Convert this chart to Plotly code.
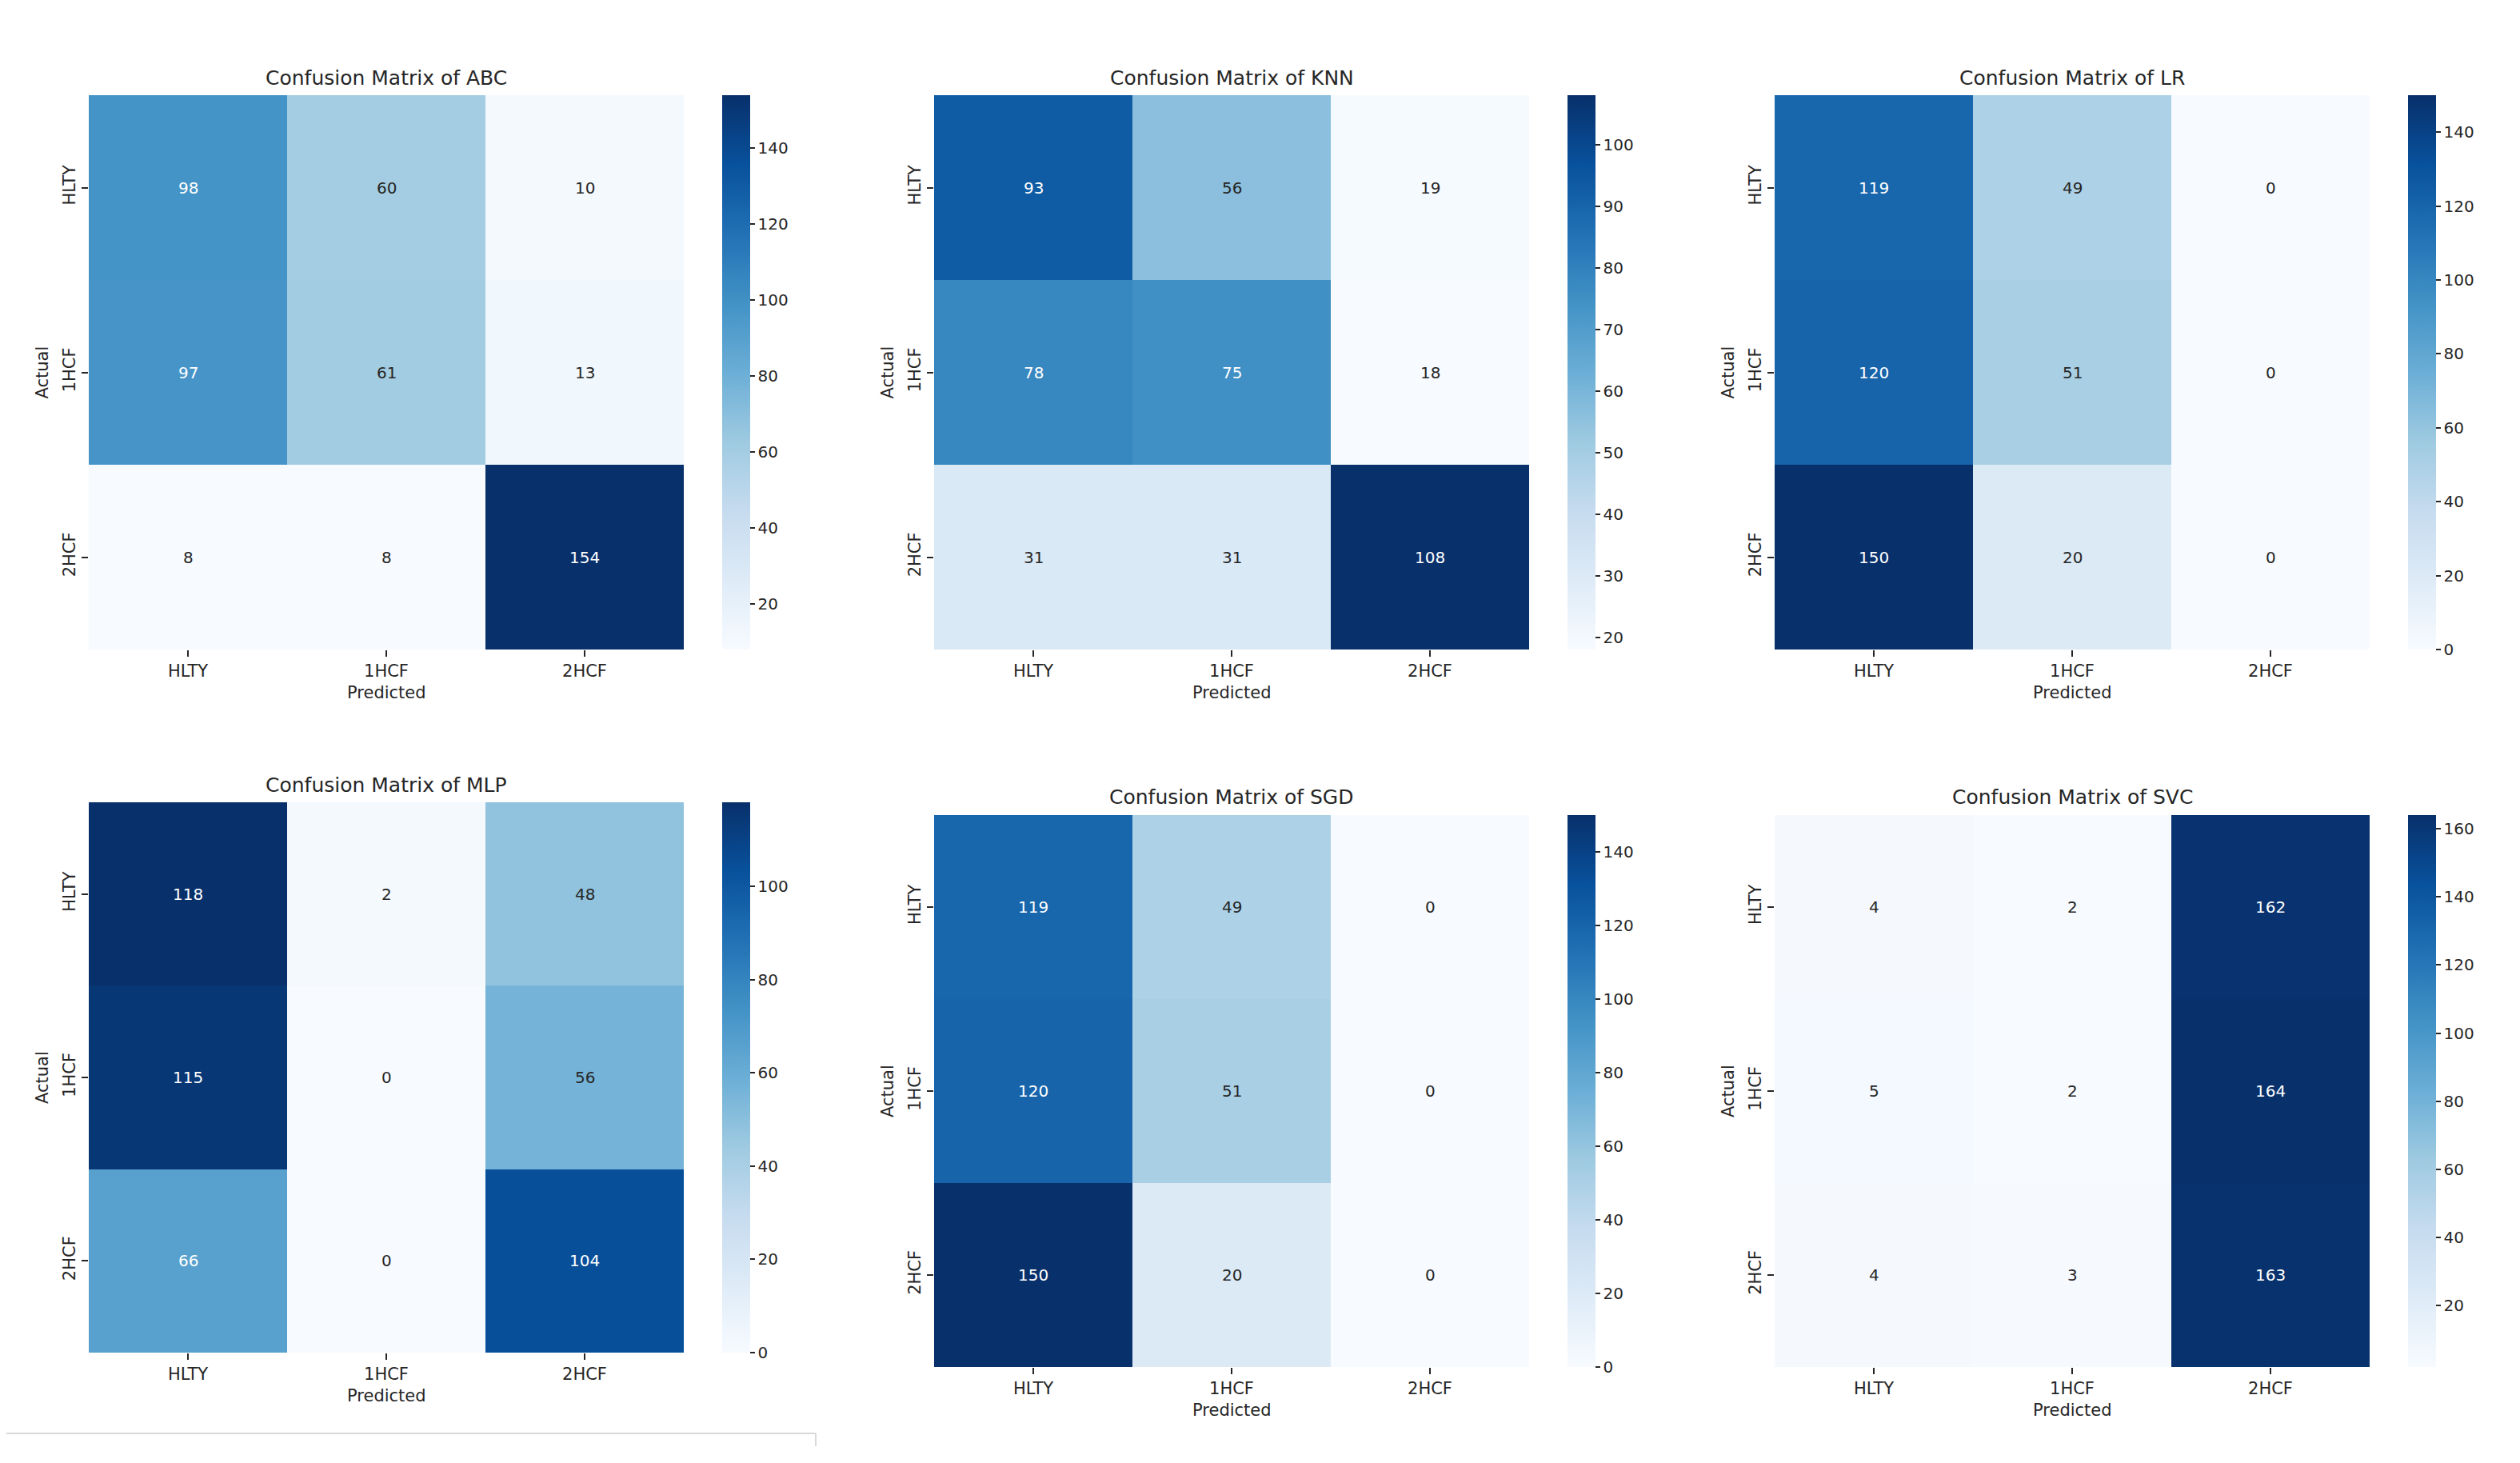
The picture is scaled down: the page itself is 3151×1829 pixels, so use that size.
import plotly.graph_objects as go
import plotly.colors as pc

W, H = 3151, 1829

labels = ["HLTY", "1HCF", "2HCF"]
models = ["ABC", "KNN", "LR", "MLP", "SGD", "SVC"]

cm_abc = [[98, 60, 10], [97, 61, 13], [8, 8, 154]]
cm_knn = [[93, 56, 19], [78, 75, 18], [31, 31, 108]]
cm_lr = [[119, 49, 0], [120, 51, 0], [150, 20, 0]]
cm_mlp = [[118, 2, 48], [115, 0, 56], [66, 0, 104]]
cm_sgd = [[119, 49, 0], [120, 51, 0], [150, 20, 0]]
cm_svc = [[4, 2, 162], [5, 2, 164], [4, 3, 163]]
matrices = [cm_abc, cm_knn, cm_lr, cm_mlp, cm_sgd, cm_svc]

# panel layout in pixels: heatmap left, right, top, bottom; colorbar left
panels = [
    dict(l=103, r=847, t=111, b=804, cb=895),
    dict(l=1160, r=1904, t=111, b=804, cb=1952),
    dict(l=2211, r=2955, t=111, b=804, cb=3003),
    dict(l=103, r=847, t=995, b=1683, cb=895),
    dict(l=1160, r=1904, t=1011, b=1701, cb=1952),
    dict(l=2211, r=2955, t=1011, b=1701, cb=3003),
]

blues = pc.sequential.Blues
TXT = "#262626"
FONT = "DejaVu Sans"


def px_x(v):
    return v / W


def px_y(v):
    return 1 - v / H


def cell_color(val, vmin, vmax):
    f = 0 if vmax == vmin else (val - vmin) / (vmax - vmin)
    col = pc.sample_colorscale(pc.make_colorscale(blues), [f])[0]
    rgb = [float(x) for x in col[col.find("(") + 1:col.find(")")].split(",")]
    lin = []
    for ch in rgb:
        ch /= 255.0
        lin.append(ch / 12.92 if ch <= 0.03928 else ((ch + 0.055) / 1.055) ** 2.4)
    lum = 0.2126 * lin[0] + 0.7152 * lin[1] + 0.0722 * lin[2]
    return TXT if lum > 0.408 else "white"


fig = go.Figure()
annotations = []
layout_axes = {}

for i, (name, cm, p) in enumerate(zip(models, matrices, panels)):
    k = "" if i == 0 else str(i + 1)
    flat = [v for row in cm for v in row]
    vmin, vmax = min(flat), max(flat)
    fig.add_trace(go.Heatmap(
        z=cm, x=labels, y=labels, colorscale="Blues", zmin=vmin, zmax=vmax,
        xaxis="x" + k, yaxis="y" + k, xgap=0, ygap=0,
        hoverinfo="skip",
        colorbar=dict(
            x=px_x(p["cb"]), xanchor="left", xref="paper",
            y=px_y(p["t"]), yanchor="top", yref="paper",
            len=(p["b"] - p["t"]) / H, lenmode="fraction",
            thickness=35, thicknessmode="pixels",
            outlinewidth=0, ticks="outside", ticklen=6, tickwidth=1.5,
            tickcolor=TXT, tickfont=dict(family=FONT, size=20, color=TXT),
            xpad=0, ypad=0,
        ),
    ))
    layout_axes["xaxis" + k] = dict(
        domain=[px_x(p["l"]), px_x(p["r"])], anchor="y" + k,
        showgrid=False, zeroline=False, showline=False,
        ticks="outside", ticklen=8, tickwidth=1.5, tickcolor=TXT,
        tickfont=dict(family=FONT, size=21, color=TXT),
        type="category", categoryorder="array", categoryarray=labels,
        fixedrange=True,
    )
    layout_axes["yaxis" + k] = dict(
        domain=[px_y(p["b"]), px_y(p["t"])], anchor="x" + k,
        showgrid=False, zeroline=False, showline=False,
        ticks="outside", ticklen=8, tickwidth=1.5, tickcolor=TXT,
        tickfont=dict(family=FONT, size=21, color=TXT), tickangle=-90,
        type="category", categoryorder="array", categoryarray=labels,
        autorange="reversed", fixedrange=True,
    )
    for r, rl in enumerate(labels):
        for c, cl in enumerate(labels):
            annotations.append(dict(
                x=cl, y=rl, xref="x" + k, yref="y" + k, text=str(cm[r][c]),
                showarrow=False,
                font=dict(family=FONT, size=20, color=cell_color(cm[r][c], vmin, vmax)),
            ))
    cx = (p["l"] + p["r"]) / 2
    annotations.append(dict(
        x=px_x(cx), y=px_y(p["t"] - 22), xref="paper", yref="paper",
        text="Confusion Matrix of " + name, showarrow=False,
        xanchor="center", yanchor="middle",
        font=dict(family=FONT, size=25, color=TXT),
    ))
    annotations.append(dict(
        x=px_x(cx), y=px_y(p["b"] + 54), xref="paper", yref="paper",
        text="Predicted", showarrow=False, xanchor="center", yanchor="middle",
        font=dict(family=FONT, size=21, color=TXT),
    ))
    annotations.append(dict(
        x=px_x(p["l"] - 58), y=px_y((p["t"] + p["b"]) / 2), xref="paper", yref="paper",
        text="Actual", showarrow=False, xanchor="center", yanchor="middle",
        textangle=-90, font=dict(family=FONT, size=21, color=TXT),
    ))

fig.update_layout(
    width=W, height=H, margin=dict(l=0, r=0, t=0, b=0),
    paper_bgcolor="white", plot_bgcolor="white",
    annotations=annotations, showlegend=False,
    shapes=[
        dict(type="line", xref="paper", yref="paper", x0=0, x1=px_x(1012),
             y0=px_y(1784), y1=px_y(1784), line=dict(color="#d9d9d9", width=2)),
        dict(type="line", xref="paper", yref="paper", x0=px_x(1012), x1=px_x(1012),
             y0=px_y(1784), y1=px_y(1800), line=dict(color="#d9d9d9", width=2)),
    ],
    **layout_axes,
)

fig.write_html("out.html")
